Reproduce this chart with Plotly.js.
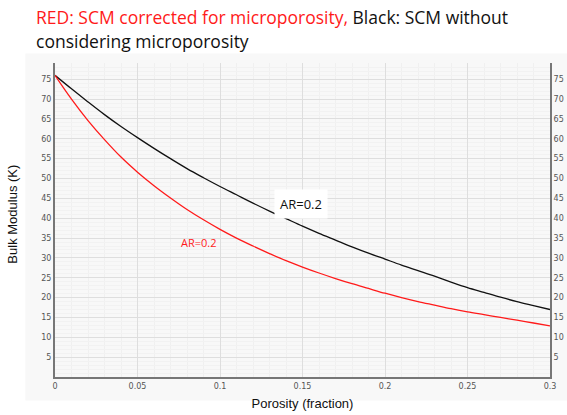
<!DOCTYPE html>
<html>
<head>
<meta charset="utf-8">
<script src="https://cdn.plot.ly/plotly-3.0.1.min.js"></script>
<style>html,body{margin:0;padding:0;background:#fff;}#chart{width:567px;height:415px;}</style>
</head>
<body>
<div id="chart"></div>
<script>
const porosity = [0,0.01,0.02,0.03,0.04,0.05,0.06,0.07,0.08,0.09,0.10,0.11,0.12,0.13,0.14,0.15,0.16,0.17,0.18,0.19,0.20,0.21,0.22,0.23,0.24,0.25,0.26,0.27,0.28,0.29,0.30];
const kBlack = [76,72.6,69.3,66.1,63.1,60.3,57.6,55.0,52.5,50.2,48.0,45.9,43.8,41.8,39.9,38.0,36.2,34.5,32.8,31.2,29.7,28.2,26.8,25.4,23.9,22.5,21.3,20.1,19.0,18.0,17.0];
const kRed = [76,70.0,64.6,59.8,55.4,51.6,48.2,45.1,42.2,39.6,37.2,35.0,33.0,31.1,29.3,27.7,26.2,24.8,23.5,22.3,21.1,20.0,19.0,18.1,17.2,16.4,15.7,15.0,14.3,13.6,12.9];
const xTicks = [0,0.05,0.1,0.15,0.2,0.25,0.3];
const xTickText = ['0','0.05','0.1','0.15','0.2','0.25','0.3'];
const yTicks = [5,10,15,20,25,30,35,40,45,50,55,60,65,70,75];

const traces = [
  {x: porosity, y: kBlack, mode: 'lines', line: {color: '#111111', width: 1.3, shape: 'spline'}, hoverinfo: 'skip'},
  {x: porosity, y: kRed, mode: 'lines', line: {color: '#ff1a1a', width: 1.3, shape: 'spline'}, hoverinfo: 'skip'},
  {x: [0.3], y: [0], yaxis: 'y2', mode: 'markers', marker: {opacity: 0}, hoverinfo: 'skip'}
];

const tickFont = {family: 'DejaVu Sans, sans-serif', size: 8, color: '#555'};
const yRange = [0, 79.1];

const layout = {
  width: 567, height: 415,
  margin: {l: 55, r: 17, t: 63, b: 38},
  paper_bgcolor: '#ffffff',
  plot_bgcolor: '#ffffff',
  showlegend: false,
  xaxis: {
    range: [0, 0.3], tickvals: xTicks, ticktext: xTickText, tickfont: tickFont,
    showgrid: true, gridcolor: '#dedede', gridwidth: 1,
    minor: {dtick: 0.01, showgrid: true, gridcolor: '#f0f0f0', gridwidth: 1},
    showline: true, linecolor: '#777', linewidth: 2, zeroline: false,
    ticks: '', ticklen: 0,
    title: {text: 'Porosity (fraction)', font: {family: 'Liberation Sans, Arial, sans-serif', size: 13, color: '#111'}, standoff: 9}
  },
  yaxis: {
    range: yRange, tickvals: yTicks, tickfont: tickFont,
    showgrid: true, gridcolor: '#dedede', gridwidth: 1,
    minor: {dtick: 1, showgrid: true, gridcolor: '#f2f2f2', gridwidth: 1},
    showline: true, linecolor: '#777', linewidth: 2, zeroline: false,
    ticks: '', ticklen: 0
  },
  yaxis2: {
    overlaying: 'y', side: 'right', range: yRange, tickvals: yTicks, tickfont: tickFont,
    showgrid: false, showline: true, linecolor: '#777', linewidth: 2, zeroline: false,
    ticks: '', ticklen: 0
  },
  shapes: [
    {type: 'rect', xref: 'paper', yref: 'paper', x0: -0.06, x1: 1.04, y0: -0.075, y1: 1.03,
     fillcolor: '#f8f8f8', line: {width: 0}, layer: 'below'}
  ],
  annotations: [
    {xref: 'paper', yref: 'paper', x: -0.042, y: 1.146, xanchor: 'left', yanchor: 'middle', showarrow: false,
     text: '<span style="color:#ff1a1a">RED: SCM corrected for microporosity,</span> Black: SCM without',
     font: {family: 'Open Sans, sans-serif', size: 17.5, color: '#111'}},
    {xref: 'paper', yref: 'paper', x: -0.042, y: 1.070, xanchor: 'left', yanchor: 'middle', showarrow: false,
     text: 'considering microporosity',
     font: {family: 'Open Sans, sans-serif', size: 17.5, color: '#111'}},
    {xref: 'paper', yref: 'paper', x: -0.085, y: 0.52, xanchor: 'center', yanchor: 'middle', showarrow: false,
     textangle: -90, text: 'Bulk Modulus (K)',
     font: {family: 'Liberation Sans, Arial, sans-serif', size: 13, color: '#111'}},
    {x: 0.149, y: 43.6, xref: 'x', yref: 'y', showarrow: false, text: 'AR=0.2',
     bgcolor: '#ffffff', borderpad: 5,
     font: {family: 'Open Sans, sans-serif', size: 13, color: '#111'}},
    {x: 0.087, y: 33.8, xref: 'x', yref: 'y', showarrow: false, text: 'AR=0.2',
     font: {family: 'Open Sans, sans-serif', size: 11, color: '#ff1a1a'}}
  ]
};

Plotly.newPlot('chart', traces, layout, {displayModeBar: false, staticPlot: true});
</script>
</body>
</html>
